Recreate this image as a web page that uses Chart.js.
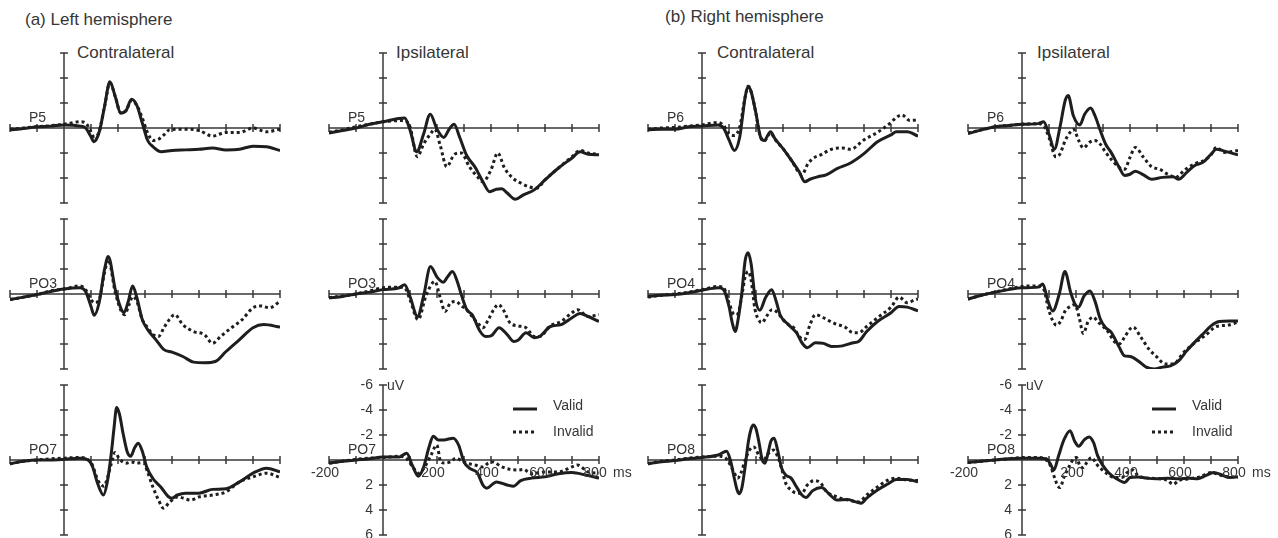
<!DOCTYPE html>
<html>
<head>
<meta charset="utf-8">
<script src="https://cdn.jsdelivr.net/npm/chart.js@4.4.0/dist/chart.umd.min.js"></script>
<style>
  body { margin: 0; background: #fff; font-family: "Liberation Sans", Arial, sans-serif; color: #363636; }
  #fig { position: relative; width: 1278px; height: 538px; overflow: hidden; }
  #fig canvas { position: absolute; }
  .lbl { position: absolute; white-space: nowrap; font-size: 17px; line-height: 20px; }
</style>
</head>
<body>
<div id="fig">
  <div class="lbl" style="left:25px;top:10px">(a) Left hemisphere</div>
  <div class="lbl" style="left:665px;top:7px">(b) Right hemisphere</div>
  <div class="lbl" style="left:77px;top:43px">Contralateral</div>
  <div class="lbl" style="left:396px;top:43px">Ipsilateral</div>
  <div class="lbl" style="left:717px;top:43px">Contralateral</div>
  <div class="lbl" style="left:1037px;top:43px">Ipsilateral</div>
</div>
<script>
// axis ticks (ms / uV), negative up as in the original figure
const xTicks = [-200, -100, 0, 100, 200, 300, 400, 500, 600, 700, 800];
const yTicks = [-6, -4, -2, 0, 2, 4, 6];
const xTickLabels = [-200, 200, 400, 600, 800];
const yTickLabels = [-6, -4, -2, 2, 4, 6];
const legendLabels = ['Valid', 'Invalid'];

// waveforms: [ms, uV]
const p5ContraValid = [[-200,0.15],[-150,0.05],[-100,-0.1],[-50,-0.15],[0,-0.25],[60,-0.15],[80,0],[100,0.7],[111,1.1],[120,0.9],[132,0.2],[150,-1.7],[170,-3.7],[190,-2.5],[210,-1.2],[230,-1.4],[250,-2.3],[270,-1.8],[290,-0.4],[310,1.0],[330,1.5],[360,1.9],[400,1.8],[450,1.75],[500,1.7],[550,1.6],[600,1.75],[650,1.7],[700,1.45],[750,1.5],[800,1.8]];
const p5ContraInvalid = [[-200,0.1],[-150,0],[-100,-0.1],[-50,-0.2],[0,-0.3],[60,-0.5],[80,-0.4],[100,0.3],[111,0.7],[130,0.3],[150,-1.7],[170,-3.6],[190,-2.5],[210,-1.2],[230,-1.4],[250,-2.2],[270,-1.8],[290,-0.8],[310,0.4],[330,1.0],[350,0.9],[370,0.55],[390,0.15],[420,0.1],[460,0.1],[500,0.2],[550,0.65],[600,0.35],[650,0.35],[700,0],[750,0.3],[800,0.1]];

const p5IpsiValid = [[-200,0.4],[-150,0.2],[-100,0],[-50,-0.3],[0,-0.5],[80,-0.8],[100,0.15],[125,1.9],[150,0.5],[175,-1.1],[200,0.1],[225,0.75],[245,0.1],[263,-0.3],[285,0.8],[310,2.2],[340,3.1],[370,4.3],[395,5.1],[420,4.9],[440,4.85],[460,5.2],[490,5.7],[520,5.35],[560,4.95],[600,4.15],[650,3.2],[700,2.4],[730,1.9],[760,2.1],[800,2.15]];
const p5IpsiInvalid = [[-200,0.35],[-150,0.15],[-100,-0.1],[-50,-0.3],[0,-0.5],[80,-0.6],[100,-0.1],[127,2.3],[150,1.3],[175,0.5],[192,0.1],[212,1.4],[236,3.1],[265,2.1],[290,2.0],[320,3.1],[350,3.9],[370,4.3],[400,3.35],[425,2.0],[450,3.2],[480,4.0],[510,4.4],[540,4.7],[570,4.8],[600,4.15],[650,3.2],[700,2.3],[730,1.8],[760,2.0],[800,2.1]];

const po3ContraValid = [[-200,0.45],[-150,0.25],[-100,0.05],[-50,-0.2],[0,-0.4],[60,-0.5],[80,-0.2],[100,1.0],[112,1.7],[130,0.7],[150,-1.95],[164,-3.0],[190,-0.35],[210,1.1],[222,1.5],[238,0.6],[254,-0.65],[270,0.3],[290,2.05],[310,2.85],[340,3.65],[370,4.45],[400,4.65],[440,5.0],[480,5.45],[520,5.5],[560,5.4],[600,4.6],[650,3.65],[700,2.7],[740,2.45],[800,2.65]];
const po3ContraInvalid = [[-200,0.45],[-150,0.25],[-100,0.05],[-50,-0.25],[0,-0.4],[60,-0.65],[80,-0.35],[100,0.45],[112,0.7],[130,0.45],[150,-1.7],[164,-2.75],[190,-0.1],[215,1.5],[225,1.65],[240,0.9],[255,0.2],[270,0.6],[290,2.05],[310,2.7],[330,3.25],[350,3.4],[370,2.7],[390,2.05],[410,1.65],[440,2.45],[480,3.0],[520,3.25],[550,3.95],[580,3.4],[620,2.7],[660,2.05],[700,1.1],[730,0.95],[760,1.1],[800,0.6]];

const po3IpsiValid = [[-200,0.3],[-150,0.2],[-100,0],[-50,-0.15],[0,-0.35],[60,-0.5],[80,-0.75],[100,0.2],[128,1.8],[150,0.2],[176,-2.2],[200,-1.35],[223,-0.95],[240,-1.4],[257,-1.8],[275,-1.0],[290,0.05],[310,1.25],[330,1.65],[360,3.0],[380,3.4],[400,3.35],[430,2.7],[460,3.25],[485,3.8],[500,3.7],[530,3.1],[560,3.5],[580,3.4],[620,2.6],[660,2.45],[700,1.9],[730,1.55],[760,1.8],[800,2.2]];
const po3IpsiInvalid = [[-200,0.3],[-150,0.15],[-100,0],[-50,-0.25],[0,-0.5],[60,-0.55],[80,-0.5],[100,0.45],[130,2.05],[160,0.1],[192,-1.0],[212,0.3],[230,1.4],[250,0.7],[270,0.6],[290,0.95],[310,1.25],[330,1.8],[350,2.3],[370,2.7],[390,2.05],[410,1.25],[427,0.85],[445,1.25],[470,2.3],[500,2.55],[530,2.7],[560,3.4],[580,3.4],[620,2.55],[660,2.2],[700,1.5],[720,1.25],[760,1.8],[800,1.65]];

const po7ContraValid = [[-200,0.3],[-150,0.1],[-100,0],[-50,0],[0,-0.05],[60,-0.15],[90,0],[105,0.5],[125,1.9],[146,2.8],[160,1.8],[175,-0.5],[185,-2.5],[195,-4.2],[205,-3.7],[220,-2.0],[235,-0.6],[247,-0.3],[262,-1.0],[275,-1.35],[290,-0.7],[306,0.55],[330,1.5],[360,2.2],[385,2.9],[400,3.05],[420,2.8],[450,2.65],[500,2.65],[550,2.35],[600,2.3],[650,1.75],[700,1.05],[750,0.65],[800,0.95]];
const po7ContraInvalid = [[-200,0.3],[-150,0.1],[-100,0],[-50,-0.1],[0,-0.15],[60,-0.2],[90,0],[105,0.4],[125,1.6],[148,2.1],[160,1.5],[175,0.3],[189,-0.6],[205,-0.1],[230,0.25],[250,0.15],[270,0.25],[294,0.2],[310,1.0],[330,2.2],[350,3.2],[368,3.85],[390,3.4],[420,2.95],[470,3.2],[500,2.95],[550,2.8],[600,2.55],[650,1.75],[700,1.35],[750,1.05],[800,1.4]];

const po7IpsiValid = [[-200,0.25],[-150,0.1],[-100,0],[-50,-0.1],[0,-0.25],[60,-0.25],[88,-0.55],[108,0.4],[131,1.3],[150,0.6],[170,-1.0],[186,-1.9],[205,-1.6],[225,-1.6],[260,-1.75],[280,-1.2],[300,0.15],[320,0.65],[350,1.05],[370,2.0],[384,2.25],[420,1.75],[460,2.0],[483,2.1],[510,1.65],[550,1.45],[600,1.35],[650,1.1],[700,1.0],[750,1.2],[800,1.45]];
const po7IpsiInvalid = [[-200,0.25],[-150,0.1],[-100,-0.05],[-50,-0.15],[0,-0.2],[60,-0.3],[88,-0.1],[110,0.55],[131,1.05],[150,0.7],[178,-0.4],[199,-1.2],[214,0.15],[230,0.25],[250,0.15],[270,-0.15],[290,0.05],[310,0.25],[340,0.4],[370,0.55],[390,0.25],[405,0.15],[440,0.55],[470,0.75],[500,0.8],[520,0.75],[550,1.1],[600,0.95],[650,0.95],[700,0.55],[720,0.4],[760,0.95],[800,1.05]];

const p6ContraValid = [[-200,0.15],[-150,0.1],[-100,0.1],[-50,-0.1],[0,-0.15],[60,-0.25],[80,0],[100,0.95],[120,1.8],[140,0.7],[150,-0.9],[160,-2.5],[171,-3.35],[182,-2.9],[200,-1.15],[215,0.6],[230,1.0],[254,0.3],[270,0.85],[300,1.65],[330,2.55],[360,3.5],[381,4.3],[400,4.1],[430,3.9],[460,3.75],[500,3.25],[550,2.8],[600,2.05],[650,1.1],[700,0.55],[720,0.3],[760,0.3],[800,0.65]];
const p6ContraInvalid = [[-200,0.1],[-150,0],[-100,-0.05],[-50,-0.15],[0,-0.25],[60,-0.45],[80,-0.2],[100,0.45],[120,0.6],[140,-0.1],[160,-2.5],[171,-3.35],[182,-2.9],[200,-1.15],[215,0.6],[230,1.05],[254,0.4],[270,0.9],[300,1.65],[330,2.55],[360,3.6],[370,3.75],[390,2.95],[410,2.45],[440,2.15],[480,1.7],[520,1.6],[550,1.7],[600,0.95],[650,0.35],[680,-0.1],[700,-0.45],[720,-0.85],[740,-1.05],[770,-0.6],[800,-0.65]];

const p6IpsiValid = [[-200,0.45],[-150,0.15],[-100,-0.1],[-50,-0.2],[0,-0.3],[60,-0.35],[80,-0.5],[100,0.5],[120,1.7],[140,0],[160,-2.2],[171,-2.6],[190,-1.0],[214,-0.25],[232,-1.1],[254,-1.6],[270,-1.0],[290,0.2],[310,1.3],[330,1.95],[360,3.15],[380,3.8],[400,3.7],[420,3.45],[450,3.75],[480,4.1],[520,3.95],[560,3.9],[580,4.1],[610,3.55],[640,3.0],[670,2.75],[700,2.1],[720,1.7],[750,1.85],[800,2.15]];
const p6IpsiInvalid = [[-200,0.4],[-150,0.15],[-100,-0.1],[-50,-0.2],[0,-0.3],[60,-0.35],[80,-0.2],[100,0.75],[125,2.3],[140,2.1],[160,1.0],[178,0.35],[190,0.1],[210,1.0],[227,1.6],[250,1.15],[270,1.0],[290,1.3],[310,1.95],[330,2.5],[360,3.15],[380,3.3],[400,2.35],[420,1.55],[450,2.35],[480,3.1],[510,3.3],[540,3.7],[570,3.95],[600,3.4],[640,2.85],[670,2.65],[700,2.15],[720,1.55],[750,1.95],[800,1.8]];

const po4ContraValid = [[-200,0.2],[-150,0.1],[-100,0.05],[-50,-0.1],[0,-0.3],[60,-0.5],[80,-0.35],[100,1.0],[112,2.3],[123,3.0],[134,2.0],[147,0],[160,-2.7],[171,-3.3],[182,-2.4],[196,0.2],[214,1.3],[235,0.3],[258,-0.35],[275,0.6],[290,1.7],[320,2.45],[350,3.1],[370,3.9],[390,4.3],[420,3.9],[450,3.95],[480,4.2],[520,4.15],[560,3.9],[580,3.8],[610,3.0],[650,2.2],[700,1.5],[730,1.0],[760,1.05],[800,1.35]];
const po4ContraInvalid = [[-200,0.25],[-150,0.1],[-100,0],[-50,-0.15],[0,-0.35],[60,-0.6],[80,-0.5],[100,0.7],[120,1.65],[132,1.6],[147,0.2],[160,-1.4],[171,-1.8],[182,-1.1],[196,1.2],[214,2.2],[222,2.3],[240,1.75],[260,1.25],[280,1.5],[300,2.05],[320,2.45],[340,2.7],[360,3.4],[380,3.65],[400,2.45],[420,1.65],[450,1.9],[490,2.35],[530,2.65],[560,3.1],[580,3.1],[610,2.6],[650,1.9],[700,1.05],[730,0.25],[760,0.7],[790,0.45],[800,0.4]];

const po4IpsiValid = [[-200,0.4],[-150,0.1],[-100,-0.15],[-50,-0.35],[0,-0.5],[60,-0.55],[77,-0.8],[96,0.55],[114,1.35],[138,0],[159,-1.8],[180,-0.15],[196,0.8],[209,1.05],[230,0.15],[252,-0.25],[270,0.55],[290,2.0],[310,2.7],[330,3.05],[360,4.25],[380,4.95],[400,5.0],[430,5.35],[460,5.85],[490,6.0],[520,5.85],[550,5.75],[580,5.35],[610,4.55],[640,3.85],[670,3.2],[700,2.55],[730,2.2],[770,2.15],[800,2.15]];
const po4IpsiInvalid = [[-200,0.4],[-150,0.1],[-100,-0.15],[-50,-0.4],[0,-0.6],[60,-0.65],[80,-0.4],[100,1.35],[128,2.5],[145,2.1],[160,1.35],[178,1.0],[196,0.85],[212,1.9],[227,3.15],[245,2.2],[264,1.85],[280,2.2],[300,2.6],[320,3.05],[340,3.75],[360,4.0],[380,3.45],[400,2.8],[412,2.65],[440,3.45],[470,4.4],[500,5.05],[530,5.6],[560,5.6],[600,4.65],[640,3.9],[680,3.3],[720,2.6],[760,2.5],[800,2.25]];

const po8ContraValid = [[-200,0.3],[-150,0.15],[-100,0.05],[-50,-0.1],[0,-0.2],[60,-0.4],[91,-0.7],[105,0],[118,1.3],[130,2.4],[138,2.7],[148,2.2],[160,0.5],[172,-1.5],[182,-2.5],[190,-2.8],[200,-2.5],[212,-1.3],[222,-0.1],[233,0.25],[245,-0.6],[255,-1.5],[267,-1.75],[280,-0.8],[295,0.65],[310,1.2],[330,1.45],[350,2.15],[370,2.8],[385,3.0],[410,2.45],[443,2.2],[470,2.7],[500,3.2],[540,3.15],[570,3.35],[590,3.45],[610,3.05],[650,2.4],[690,1.9],[720,1.55],[760,1.55],[800,1.75]];
const po8ContraInvalid = [[-200,0.3],[-150,0.1],[-100,0],[-50,-0.15],[0,-0.25],[60,-0.3],[85,-0.2],[105,0.4],[120,1.05],[132,1.45],[145,1.0],[160,0],[176,-0.8],[192,-1.05],[210,-0.4],[228,0],[245,-0.5],[264,-0.8],[280,-0.3],[295,0.7],[310,1.85],[330,2.4],[350,2.65],[370,2.65],[390,2.0],[415,1.65],[440,1.85],[460,2.5],[500,2.95],[540,3.2],[580,3.35],[610,2.8],[650,2.15],[690,1.6],[720,1.45],[760,1.6],[800,1.65]];

const po8IpsiValid = [[-200,0.2],[-150,0.1],[-100,0],[-50,-0.1],[0,-0.15],[60,-0.15],[90,-0.1],[105,0.3],[118,0.8],[135,-0.3],[155,-1.6],[178,-2.35],[195,-1.5],[210,-1.1],[230,-1.6],[249,-1.85],[265,-1.4],[280,-0.35],[300,0.45],[320,1.0],[350,1.5],[380,1.8],[400,1.4],[430,1.35],[460,1.45],[500,1.5],[540,1.45],[580,1.5],[620,1.45],[650,1.5],[680,1.25],[710,1.0],[740,1.2],[770,1.4],[800,1.35]];
const po8IpsiInvalid = [[-200,0.2],[-150,0.1],[-100,0],[-50,-0.1],[0,-0.2],[60,-0.2],[90,0],[105,0.45],[122,1.5],[132,2.05],[141,2.2],[155,1.4],[175,0.5],[190,-0.05],[202,-0.2],[214,0.45],[226,0.6],[240,0.2],[258,-0.2],[275,0.3],[295,0.75],[315,1.1],[340,1.4],[370,1.4],[390,1.0],[410,0.8],[430,1.25],[470,1.45],[510,1.5],[540,1.65],[560,1.95],[580,1.65],[620,1.5],[660,1.35],[700,1.0],[740,1.25],[770,1.35],[800,1.35]];

// panel layout: left/top of the plot box (-200 ms, -6 uV)
const panels = [
  { left: 10,  top: 53,  site: 'P5',  valid: p5ContraValid,  invalid: p5ContraInvalid },
  { left: 329, top: 53,  site: 'P5',  valid: p5IpsiValid,    invalid: p5IpsiInvalid },
  { left: 648, top: 53,  site: 'P6',  valid: p6ContraValid,  invalid: p6ContraInvalid },
  { left: 968, top: 53,  site: 'P6',  valid: p6IpsiValid,    invalid: p6IpsiInvalid },
  { left: 10,  top: 219, site: 'PO3', valid: po3ContraValid, invalid: po3ContraInvalid },
  { left: 329, top: 219, site: 'PO3', valid: po3IpsiValid,   invalid: po3IpsiInvalid },
  { left: 648, top: 219, site: 'PO4', valid: po4ContraValid, invalid: po4ContraInvalid },
  { left: 968, top: 219, site: 'PO4', valid: po4IpsiValid,   invalid: po4IpsiInvalid },
  { left: 10,  top: 385, site: 'PO7', valid: po7ContraValid, invalid: po7ContraInvalid },
  { left: 329, top: 385, site: 'PO7', valid: po7IpsiValid,   invalid: po7IpsiInvalid, labels: true },
  { left: 648, top: 385, site: 'PO8', valid: po8ContraValid, invalid: po8ContraInvalid },
  { left: 968, top: 385, site: 'PO8', valid: po8IpsiValid,   invalid: po8IpsiInvalid, labels: true }
];

const PAD = { left: 50, right: 45, top: 20, bottom: 15 };
const PLOT_W = 270, PLOT_H = 150;
const INK = '#1e1e1e';
const AXIS = '#383838';
const TEXT = '#363636';
const FONT = '"Liberation Sans", Arial, sans-serif';

function toPoints(arr) {
  return arr.map(p => ({ x: p[0], y: p[1] }));
}

// axes crossing at (0 ms, 0 uV), with ticks on both sides
const erpAxes = {
  id: 'erpAxes',
  beforeDatasetsDraw(chart, args, opts) {
    const ctx = chart.ctx;
    const xs = chart.scales.x, ys = chart.scales.y;
    const x0 = xs.getPixelForValue(0), y0 = ys.getPixelForValue(0);
    ctx.save();
    ctx.strokeStyle = AXIS;
    ctx.lineWidth = 1.5;
    ctx.beginPath();
    ctx.moveTo(xs.getPixelForValue(-200), y0);
    ctx.lineTo(xs.getPixelForValue(800), y0);
    ctx.moveTo(x0, ys.getPixelForValue(-6));
    ctx.lineTo(x0, ys.getPixelForValue(6));
    xTicks.forEach(t => {
      const px = xs.getPixelForValue(t);
      ctx.moveTo(px, y0 - 4);
      ctx.lineTo(px, y0 + 4);
    });
    yTicks.forEach(v => {
      const py = ys.getPixelForValue(v);
      ctx.moveTo(x0 - 4, py);
      ctx.lineTo(x0 + 4, py);
    });
    ctx.stroke();
    ctx.restore();
  },
  afterDraw(chart, args, opts) {
    const ctx = chart.ctx;
    const xs = chart.scales.x, ys = chart.scales.y;
    const x0 = xs.getPixelForValue(0), y0 = ys.getPixelForValue(0);
    const left = xs.getPixelForValue(-200);
    ctx.save();
    ctx.fillStyle = TEXT;
    ctx.font = '14px ' + FONT;
    ctx.textAlign = 'left';
    ctx.textBaseline = 'alphabetic';
    ctx.fillText(opts.site, left + 19, y0 - 6);

    if (opts.labels) {
      ctx.textBaseline = 'middle';
      ctx.textAlign = 'right';
      yTickLabels.forEach(v => ctx.fillText(String(v), x0 - 10, ys.getPixelForValue(v)));
      ctx.textAlign = 'center';
      xTickLabels.forEach(t => ctx.fillText(String(t), xs.getPixelForValue(t) - 4, y0 + 13));
      ctx.textAlign = 'left';
      ctx.fillText('ms', xs.getPixelForValue(800) + 14, y0 + 13);
      ctx.fillText('uV', x0 + 4, ys.getPixelForValue(-6) + 1);

      // legend
      ctx.strokeStyle = INK;
      ctx.lineWidth = 3;
      ctx.beginPath();
      ctx.moveTo(left + 184, y0 - 51);
      ctx.lineTo(left + 208, y0 - 51);
      ctx.stroke();
      ctx.setLineDash([3, 3]);
      ctx.beginPath();
      ctx.moveTo(left + 184, y0 - 28);
      ctx.lineTo(left + 208, y0 - 28);
      ctx.stroke();
      ctx.setLineDash([]);
      ctx.fillText(legendLabels[0], left + 224, y0 - 54);
      ctx.fillText(legendLabels[1], left + 224, y0 - 28);
    }
    ctx.restore();
  }
};

const fig = document.getElementById('fig');

panels.forEach(p => {
  const canvas = document.createElement('canvas');
  canvas.width = PLOT_W + PAD.left + PAD.right;
  canvas.height = PLOT_H + PAD.top + PAD.bottom;
  canvas.style.left = (p.left - PAD.left) + 'px';
  canvas.style.top = (p.top - PAD.top) + 'px';
  fig.appendChild(canvas);

  new Chart(canvas.getContext('2d'), {
    type: 'line',
    data: {
      datasets: [{
        label: legendLabels[0],
        data: toPoints(p.valid),
        borderColor: INK,
        borderWidth: 3,
        pointRadius: 0,
        cubicInterpolationMode: 'monotone',
        fill: false
      }, {
        label: legendLabels[1],
        data: toPoints(p.invalid),
        borderColor: INK,
        borderWidth: 3,
        borderDash: [3, 3],
        pointRadius: 0,
        cubicInterpolationMode: 'monotone',
        fill: false
      }]
    },
    options: {
      responsive: false,
      animation: false,
      events: [],
      layout: { padding: PAD },
      plugins: {
        legend: { display: false },
        tooltip: { enabled: false },
        erpAxes: { site: p.site, labels: !!p.labels }
      },
      scales: {
        x: { type: 'linear', min: -200, max: 800, display: false },
        y: { type: 'linear', min: -6, max: 6, reverse: true, display: false }
      }
    },
    plugins: [erpAxes]
  });
});
</script>
</body>
</html>
